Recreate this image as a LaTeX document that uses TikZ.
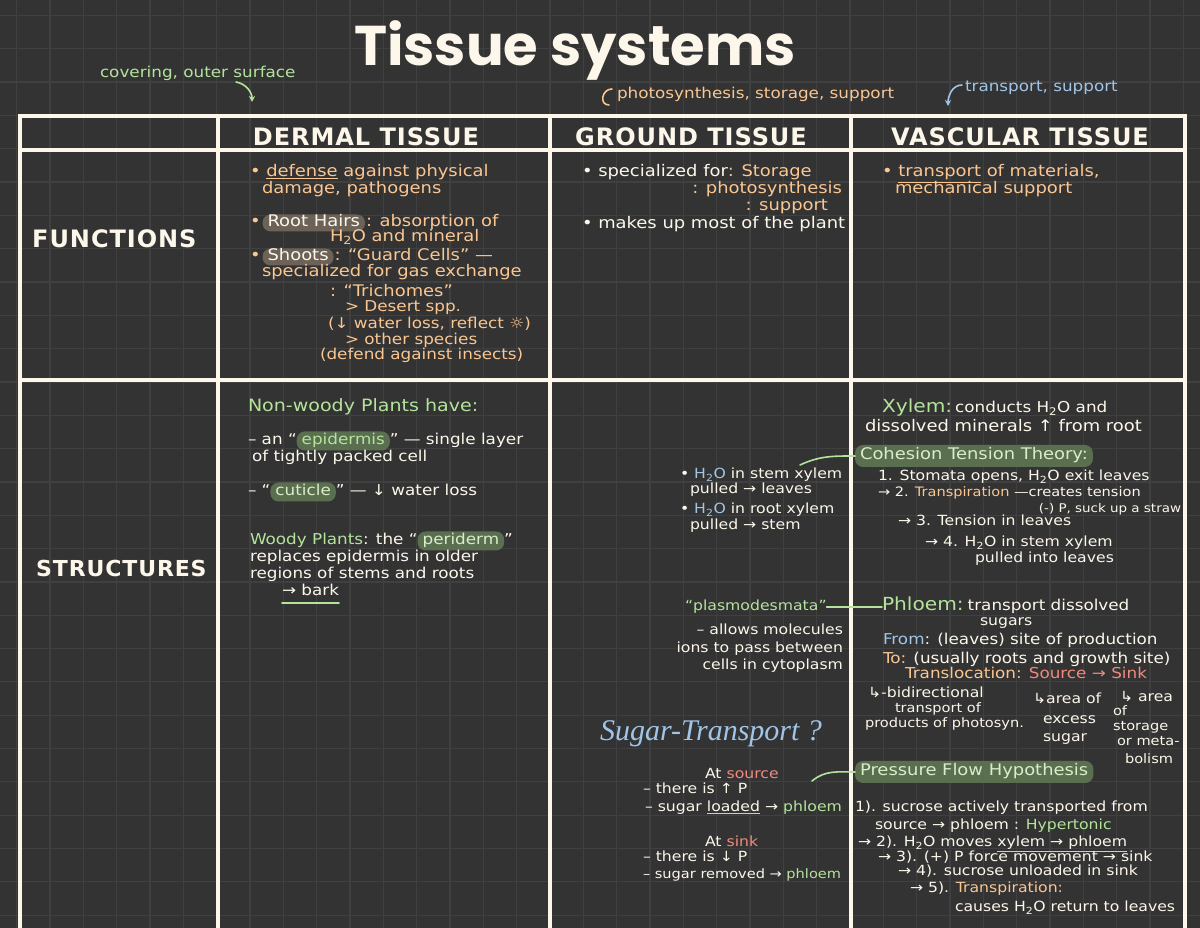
\documentclass[tikz,border=0pt]{standalone}
\usepackage{fontspec}
\setmainfont[FakeStretch=1.12]{DejaVu Sans}
\newfontfamily\titlefont{Poppins}
\newfontfamily\headfont[LetterSpace=4]{DejaVu Sans}
\newfontfamily\cursfont{Liberation Serif}
\usetikzlibrary{positioning,arrows.meta}

\definecolor{bgColor}{RGB}{51,51,51}
\definecolor{gridColor}{RGB}{64,64,64}
\definecolor{creamColor}{RGB}{252,247,234}
\definecolor{peachColor}{RGB}{250,198,146}
\definecolor{greenColor}{RGB}{180,228,156}
\definecolor{blueColor}{RGB}{160,197,232}
\definecolor{pinkColor}{RGB}{240,138,126}
\definecolor{brownPill}{RGB}{108,98,88}
\definecolor{greenPill}{RGB}{90,110,80}
\definecolor{pillText}{RGB}{218,236,200}

\newcommand{\fsA}{\fontsize{16}{18}\selectfont}
\newcommand{\fsB}{\fontsize{15}{17}\selectfont}
\newcommand{\fsC}{\fontsize{14}{16}\selectfont}
\newcommand{\fsD}{\fontsize{13}{15}\selectfont}
\newcommand{\undl}[3]{{\color{#1}\underline{\textcolor{#2}{#3}}}}
\newcommand{\water}{H\textsubscript{2}O}

\tikzset{
  txt/.style={anchor=west, inner sep=0pt, outer sep=0pt, text height=11pt, text depth=3pt, text=creamColor, font=\fsA},
  mid/.style={font=\fsB},
  small/.style={font=\fsC},
  tiny/.style={font=\fsD},
  pill/.style={txt, fill=greenPill, text=pillText, rounded corners=8pt, inner xsep=5pt, inner ysep=2.5pt},
  brownpill/.style={pill, fill=brownPill, text=creamColor, inner ysep=1.5pt},
  head/.style={anchor=base, inner sep=0pt, text=creamColor, font=\headfont\bfseries\fontsize{24}{28}\selectfont},
  tableLine/.style={draw=creamColor, line width=3.5pt},
  gridLine/.style={draw=gridColor, line width=1.2pt},
  link/.style={draw=greenColor, line width=1.6pt, line cap=round},
  hook/.style={line width=1.6pt, line cap=round, -{Stealth[length=6pt,width=6pt]}},
}

\begin{document}
\begin{tikzpicture}[x=1pt,y=1pt]
\path[use as bounding box,fill=bgColor] (0,0) rectangle (1200,928);

% grid paper
\foreach \i in {0,...,35}
  \draw[gridLine] ({16.7+33.33*\i},0) -- ({16.7+33.33*\i},928);
\foreach \j in {0,...,27}
  \draw[gridLine] (0,{912.7-33.33*\j}) -- (1200,{912.7-33.33*\j});

% table frame
\draw[tableLine] (20,812) rectangle (1185,-10);
\draw[tableLine] (20,778) -- (1185,778);
\draw[tableLine] (20,548) -- (1185,548);
\foreach \x in {218,550,851}
  \draw[tableLine] (\x,812) -- (\x,-10);

% title and notes
\node[anchor=base, inner sep=0pt, text=creamColor, font=\titlefont\bfseries\fontsize{56}{58}\selectfont] (title) at (575,862) {Tissue systems};

\node[txt, mid, text=greenColor] (covNote) at (100,854) {covering, outer surface};
\coordinate (covFrom) at (236,846);
\coordinate (covTo) at (252,826);
\draw[hook, greenColor] (covFrom) to[out=-10,in=90] (covTo);

\node[txt, mid, text=peachColor] (grdNote) at (617,833) {photosynthesis, storage, support};
\coordinate (grdFrom) at (612,839);
\coordinate (grdTo) at (609,823);
\draw[peachColor, line width=1.6pt, line cap=round] (grdFrom) to[out=180,in=180,looseness=1.6] (grdTo);

\node[txt, mid, text=blueColor] (vasNote) at (965,840) {transport, support};
\coordinate (vasFrom) at (962,843);
\coordinate (vasTo) at (948,822);
\draw[hook, blueColor] (vasFrom) to[out=180,in=90] (vasTo);

% headers
\node[head] (hDermal) at (366,782) {DERMAL TISSUE};
\node[head] (hGround) at (691,782) {GROUND TISSUE};
\node[head] (hVasc) at (1020,782) {VASCULAR TISSUE};
\node[head, anchor=base west] (rowFun) at (32,680) {FUNCTIONS};
\node[head, anchor=base west, font=\headfont\bfseries\fontsize{22}{26}\selectfont] (rowStr) at (36,351) {STRUCTURES};

% functions: dermal
\node[txt, text=peachColor] (fd1) at (250,755) {• \undl{peachColor}{peachColor}{defense} against physical};
\node[txt, text=peachColor] (fd2) at (262,738) {damage, pathogens};
\node[txt, text=peachColor] (fd3) at (250,705) {•};
\node[brownpill, right=2pt of fd3] (rootHairs) {Root Hairs};
\node[txt, text=peachColor, right=1pt of rootHairs] (fd3b) {: absorption of};
\node[txt, text=peachColor] (fd4) at (330,690) {\water{} and mineral};
\node[txt, text=peachColor] (fd5) at (250,671) {•};
\node[brownpill, right=2pt of fd5] (shoots) {Shoots};
\node[txt, text=peachColor, right=1pt of shoots] (fd5b) {: “Guard Cells” —};
\node[txt, text=peachColor] (fd6) at (262,655) {specialized for gas exchange};
\node[txt, text=peachColor] (fd7) at (330,635) {: “Trichomes”};
\node[txt, mid, text=peachColor] (fd8) at (345,620) {> Desert spp.};
\node[txt, mid, text=peachColor] (fd9) at (328,603) {(↓ water loss, reflect ☼)};
\node[txt, mid, text=peachColor] (fd10) at (345,587) {> other species};
\node[txt, mid, text=peachColor] (fd11) at (320,572) {(defend against insects)};

% functions: ground
\node[txt] (fg1) at (582,755) {• specialized for\textcolor{peachColor}{: Storage}};
\node[txt, anchor=east, text=peachColor] (fg2) at (842,738) {: photosynthesis};
\node[txt, anchor=east, text=peachColor] (fg3) at (828,721) {: support};
\node[txt] (fg4) at (582,703) {• makes up most of the plant};

% functions: vascular
\node[txt, text=peachColor] (fv1) at (882,755) {• \undl{peachColor}{peachColor}{transport} of materials,};
\node[txt, text=peachColor] (fv2) at (895,738) {mechanical support};

% structures: dermal
\node[txt, text=greenColor, font=\fontsize{17}{19}\selectfont] (sd1) at (248,520) {Non-woody Plants have:};
\node[txt, mid] (sd2a) at (248,487) {– an “};
\node[pill, mid, right=0pt of sd2a, text=greenColor] (epid) {epidermis};
\node[txt, mid, right=0pt of epid] (sd2b) {” — single layer};
\node[txt, mid] (sd3) at (252,470) {of tightly packed cell};
\node[txt, mid] (sd4a) at (248,436) {– “};
\node[pill, mid, right=0pt of sd4a] (cuticle) {cuticle};
\node[txt, mid, right=0pt of cuticle] (sd4b) {” — ↓ water loss};
\node[txt, mid] (sd5a) at (250,387) {\textcolor{greenColor}{Woody Plants}: the “};
\node[pill, mid, right=0pt of sd5a] (periderm) {periderm};
\node[txt, mid, right=0pt of periderm] (sd5b) {”};
\node[txt, mid] (sd6) at (250,370) {replaces epidermis in older};
\node[txt, mid] (sd7) at (250,353) {regions of stems and roots};
\node[txt, mid] (bark) at (282,336) {→ bark};
\draw[link] ([yshift=-4pt]bark.south west) -- ([yshift=-4pt]bark.south east);

% structures: ground
\node[txt, small] (sg1) at (680,453) {• \textcolor{blueColor}{\water} in stem xylem};
\node[txt, small] (sg2) at (690,438) {pulled → leaves};
\node[txt, small] (sg3) at (680,418) {• \textcolor{blueColor}{\water} in root xylem};
\node[txt, small] (sg4) at (690,402) {pulled → stem};
\coordinate (sg1top) at (800,463);

\node[txt, small, text=greenColor] (plasmo) at (685,321) {“plasmodesmata”};
\node[txt, small, anchor=east] (pl2) at (843,297) {– allows molecules};
\node[txt, small, anchor=east] (pl3) at (843,279) {ions to pass between};
\node[txt, small, anchor=east] (pl4) at (843,262) {cells in cytoplasm};

\node[txt, text=blueColor, font=\cursfont\itshape\fontsize{30}{32}\selectfont] (sugarT) at (600,191) {Sugar-Transport ?};
\node[txt, small] (src1) at (705,153) {At \textcolor{pinkColor}{source}};
\coordinate (srcEnd) at (812,147);
\node[txt, small] (src2) at (643,138) {– there is ↑ P};
\node[txt, small] (src3) at (645,120) {– sugar \undl{greenColor}{creamColor}{loaded} → \textcolor{greenColor}{phloem}};
\node[txt, small] (snk1) at (705,85) {At \textcolor{pinkColor}{sink}};
\node[txt, small] (snk2) at (643,70) {– there is ↓ P};
\node[txt, tiny] (snk3) at (643,53) {– sugar removed → \textcolor{greenColor}{phloem}};

% structures: vascular
\node[txt, text=greenColor, font=\fontsize{18}{20}\selectfont] (xylem) at (882,519) {Xylem:};
\node[txt, mid, right=3pt of xylem] (xy1b) {conducts \water{} and};
\node[txt] (xy2) at (865,500) {dissolved minerals ↑ from root};
\node[pill, inner ysep=4pt] (cohesion) at (855,472) {Cohesion Tension Theory:};
\node[txt, small] (ct1) at (878,451) {1. Stomata opens, \water{} exit leaves};
\node[txt, tiny] (ct2) at (878,435) {→ 2. \textcolor{peachColor}{Transpiration} —creates tension};
\node[txt, anchor=east, font=\fontsize{12}{14}\selectfont] (ct2b) at (1181,419) {(-) P, suck up a straw};
\node[txt, small] (ct3) at (898,406) {→ 3. Tension in leaves};
\node[txt, small] (ct4) at (925,385) {→ 4. \water{} in stem xylem};
\node[txt, small] (ct4b) at (975,369) {pulled into leaves};

\node[txt, text=greenColor, font=\fontsize{18}{20}\selectfont] (phloem) at (882,321) {Phloem:};
\node[txt, mid, right=4pt of phloem] (ph1b) {transport dissolved};
\node[txt, small] (ph2) at (980,306) {sugars};
\node[txt, mid] (ph3) at (883,287) {\textcolor{blueColor}{From}: (leaves) site of production};
\node[txt, mid] (ph4) at (883,268) {\textcolor{peachColor}{To:} (usually roots and growth site)};
\node[txt, mid, text=peachColor] (ph5) at (905,253) {Translocation: \textcolor{pinkColor}{Source → Sink}};
\node[txt, small] (bi1) at (868,234) {↳-bidirectional};
\node[txt, tiny] (bi2) at (895,219) {transport of};
\node[txt, tiny] (bi3) at (865,204) {products of photosyn.};
\node[txt, small] (ex1) at (1033,228) {↳area of};
\node[txt, small] (ex2) at (1043,208) {excess};
\node[txt, small] (ex3) at (1043,190) {sugar};
\node[txt, small] (st1) at (1120,230) {↳ area};
\node[txt, tiny] (st2) at (1113,216) {of};
\node[txt, tiny] (st3) at (1113,201) {storage};
\node[txt, tiny] (st4) at (1117,186) {or meta-};
\node[txt, tiny] (st5) at (1125,168) {bolism};

\node[pill, inner ysep=4pt] (pressure) at (855,156) {Pressure Flow Hypothesis};
\node[txt, small] (pf1) at (855,120) {1). sucrose actively transported from};
\node[txt, small] (pf2) at (875,102) {source → phloem : \textcolor{greenColor}{Hypertonic}};
\node[txt, small] (pf3) at (858,85) {→ 2). \water{} moves \undl{greenColor}{creamColor}{xylem → phloem}};
\node[txt, small] (pf4) at (878,70) {→ 3). (+) P force movement → sink};
\node[txt, small] (pf5) at (898,56) {→ 4). sucrose unloaded in sink};
\node[txt, small] (pf6) at (910,39) {→ 5). \textcolor{peachColor}{Transpiration:}};
\node[txt, small] (pf7) at (955,20) {causes \water{} return to leaves};

% links
\draw[link] (sg1top) to[out=25,in=180] (cohesion.west);
\draw[link] (plasmo.east) -- (phloem.west);
\draw[link] (srcEnd) to[out=40,in=180] (pressure.west);
\end{tikzpicture}
\end{document}
